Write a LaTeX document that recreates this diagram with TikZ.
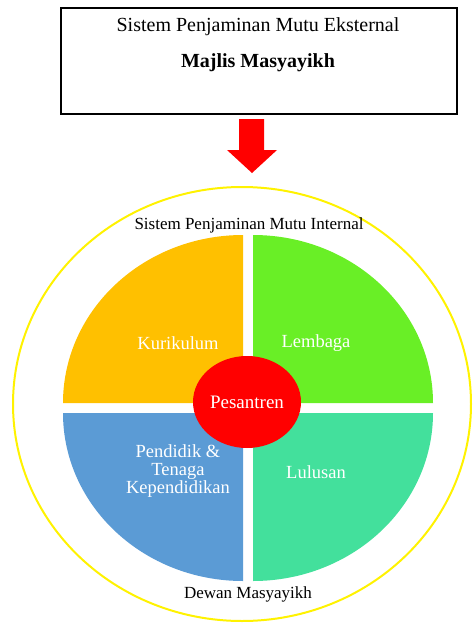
\documentclass[tikz,border=0pt]{standalone}
\usepackage{fontspec}
\setmainfont{Liberation Serif}
\usetikzlibrary{shapes.geometric, positioning}
\usepackage{xcolor}
\definecolor{quadorange}{HTML}{FFC000}
\definecolor{quadgreen}{HTML}{69EF26}
\definecolor{quadteal}{HTML}{43E09C}
\definecolor{quadblue}{HTML}{5B9BD5}
\def\rx{180}
\def\ry{168}

\begin{document}
\begin{tikzpicture}[x=1pt, y=1pt]
    \tikzstyle{frame}=[draw=black, line width=1.2pt, minimum width=396pt, minimum height=106pt, inner sep=0pt]
    \tikzstyle{title}=[text=black, font=\fontsize{20}{24}\selectfont]
    \tikzstyle{caption}=[text=black, font=\fontsize{17}{20}\selectfont]
    \tikzstyle{quad}=[text=white, font=\fontsize{18.5}{18}\selectfont, align=center]
    \tikzstyle{core}=[ellipse, fill=red, minimum width=108pt, minimum height=92pt, inner sep=0pt, text=white, font=\fontsize{19}{22}\selectfont]

    \useasboundingbox (0,0) rectangle (473,-624);

    % Draw the external box
    \node[frame] (box) at (259,-61) {};
    \node[title] (eks) at (258,-27) {Sistem Penjaminan Mutu Eksternal};
    \node[title, font=\fontsize{20}{24}\selectfont\bfseries] (majlis) at (258,-63) {Majlis Masyayikh};

    % Block arrow
    \fill[red] (239,-119) -- (264,-119) -- (264,-150) -- (277,-150) -- (252,-173) -- (227,-150) -- (239,-150) -- cycle;

    % Outer ring
    \draw[yellow, line width=2pt] (242,-404) ellipse [x radius=229, y radius=217];

    % Draw the four quarters
    \fill[quadorange] (243,-403) -- (63,-403) arc[start angle=180, end angle=90, x radius=\rx, y radius=\ry] -- cycle;
    \fill[quadgreen] (253,-403) -- (253,-235) arc[start angle=90, end angle=0, x radius=\rx, y radius=\ry] -- cycle;
    \fill[quadblue] (243,-413) -- (63,-413) arc[start angle=180, end angle=270, x radius=\rx, y radius=\ry] -- cycle;
    \fill[quadteal] (253,-413) -- (433,-413) arc[start angle=0, end angle=-90, x radius=\rx, y radius=\ry] -- cycle;

    \node[quad] (kur) at (178,-343) {Kurikulum};
    \node[quad] (lem) at (316,-343) {Lembaga};
    \node[quad] (pen) at (178,-471) {Pendidik \&\\Tenaga\\Kependidikan};
    \node[quad] (lul) at (316,-472) {Lulusan};

    % Centre
    \node[core] (pes) at (247,-402) {Pesantren};

    \node[caption] (spmi) at (249,-225) {Sistem Penjaminan Mutu Internal};
    \node[caption] (dewan) at (248,-594) {Dewan Masyayikh};
\end{tikzpicture}
\end{document}
